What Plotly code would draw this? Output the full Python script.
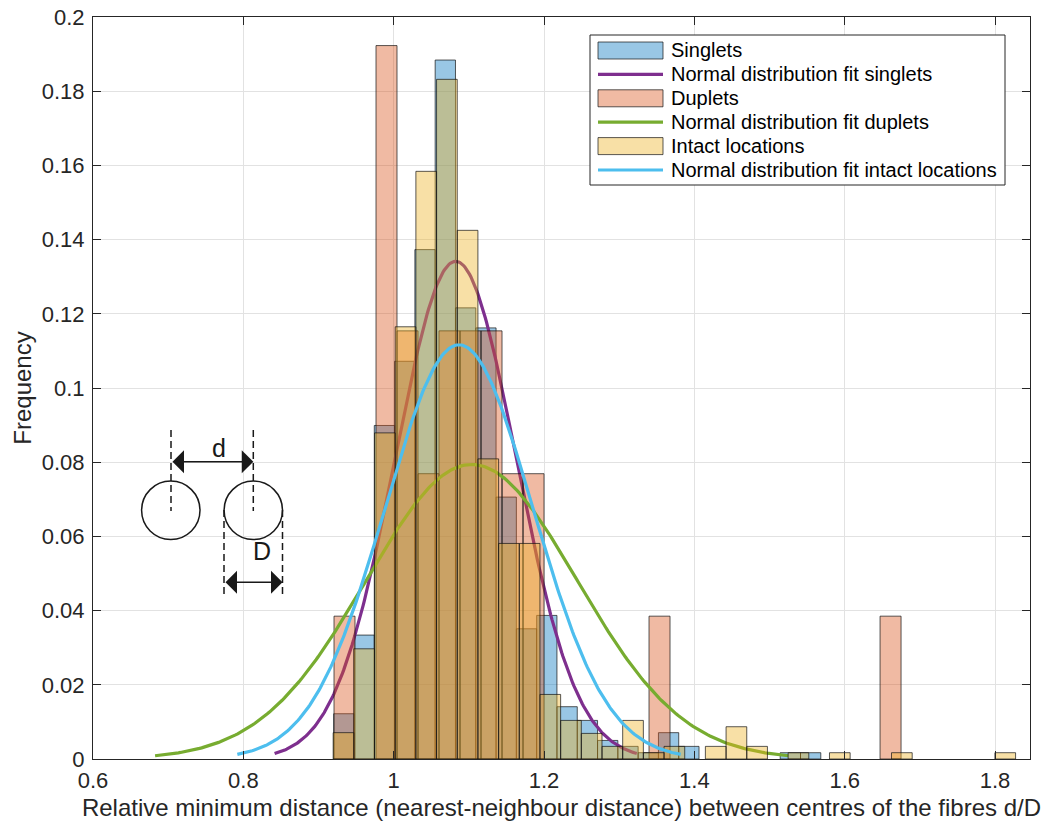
import numpy as np
import plotly.graph_objects as go

# ---------------- data (relative frequency per histogram bin) ----------------
singlets_bin_start = 0.9202
singlets_bin_width = 0.0270
singlets_freq = [0.0122, 0.0334, 0.0899, 0.1072, 0.1373, 0.1884, 0.1216, 0.1162, 0.0706, 0.0351,
                 0.0387, 0.0141, 0.0104, 0.0050, 0.0034, 0.0017, 0.0071, 0.0034, 0.0, 0.0,
                 0.0, 0.0, 0.0017, 0.0017]

duplets_bin_start = 0.9206
duplets_bin_width = 0.02794
duplets_freq = [0.0385, 0.0, 0.1923, 0.1154, 0.0769, 0.1154, 0.1154, 0.1154, 0.0769, 0.0769,
                0.0, 0.0, 0.0, 0.0, 0.0, 0.0385, 0.0, 0.0, 0.0, 0.0,
                0.0, 0.0, 0.0, 0.0, 0.0, 0.0, 0.0385]

intact_bin_start = 0.9195
intact_bin_width = 0.02751
intact_freq = [0.0071, 0.0297, 0.0879, 0.1165, 0.1584, 0.1832, 0.1425, 0.0809, 0.0581, 0.0581,
               0.0174, 0.0104, 0.0069, 0.0034, 0.0104, 0.0017, 0.0034, 0.0, 0.0034, 0.0087,
               0.0034, 0.0, 0.0017, 0.0, 0.0017, 0.0, 0.0, 0.0017, 0.0, 0.0,
               0.0, 0.0, 0.0017]

# normal distribution fits (mean, standard deviation)
singlets_fit = (1.0825, 0.0803)
duplets_fit = (1.1038, 0.1404)
intact_fit = (1.0869, 0.0983)

series_names = ["Singlets", "Duplets", "Intact locations"]
fit_names = ["Normal distribution fit singlets", "Normal distribution fit duplets",
             "Normal distribution fit intact locations"]

x_ticks = [0.6, 0.8, 1.0, 1.2, 1.4, 1.6, 1.8]
x_ticktext = ["0.6", "0.8", "1", "1.2", "1.4", "1.6", "1.8"]
y_ticks = [0, 0.02, 0.04, 0.06, 0.08, 0.1, 0.12, 0.14, 0.16, 0.18, 0.2]
y_ticktext = ["0", "0.02", "0.04", "0.06", "0.08", "0.1", "0.12", "0.14", "0.16", "0.18", "0.2"]

x_title = "Relative minimum distance (nearest-neighbour distance) between centres of the fibres d/D"
y_title = "Frequency"

# ---------------- styles / layout geometry ----------------
FONT = "Liberation Sans, Arial, Helvetica, sans-serif"
AX = "rgb(38,38,38)"
EDGE = "rgba(20,20,20,0.7)"
fills = ["rgba(0,114,189,0.4)", "rgba(217,83,25,0.4)", "rgba(237,177,32,0.4)"]
fit_colors = ["rgb(126,47,142)", "rgb(119,172,48)", "rgb(77,190,238)"]

W, H = 1045, 824
SPL, SPR, SPT, SPB = 93, 1030, 17, 759   # plot area on screen
ML, MT = SPL, SPT
MR, MB = W - SPR, H - SPB


def px(xs):
    return (xs - SPL) / (SPR - SPL)


def py(ys):
    return (SPB - ys) / (SPB - SPT)


def hist_polygons(start, width, freq):
    xs, ys = [], []
    for k, f in enumerate(freq):
        if f <= 0:
            continue
        x0 = start + k * width
        x1 = x0 + width
        xs += [x0, x0, x1, x1, x0, None]
        ys += [0, f, f, 0, 0, None]
    return xs, ys


def normal_fit_curve(mu, sigma, bin_width):
    x = np.linspace(mu - 3 * sigma, mu + 3 * sigma, 300)
    y = bin_width * np.exp(-0.5 * ((x - mu) / sigma) ** 2) / (sigma * np.sqrt(2 * np.pi))
    return x, y


fig = go.Figure()

hists = [(singlets_bin_start, singlets_bin_width, singlets_freq, singlets_fit),
         (duplets_bin_start, duplets_bin_width, duplets_freq, duplets_fit),
         (intact_bin_start, intact_bin_width, intact_freq, intact_fit)]

for i, (start, width, freq, (mu, sd)) in enumerate(hists):
    hx, hy = hist_polygons(start, width, freq)
    fig.add_trace(go.Scatter(x=hx, y=hy, mode="lines", fill="toself", fillcolor=fills[i],
                             line=dict(color=EDGE, width=1), showlegend=False,
                             name=series_names[i], hoverinfo="skip"))
    fx, fy = normal_fit_curve(mu, sd, width)
    fig.add_trace(go.Scatter(x=fx, y=fy, mode="lines", name=fit_names[i], showlegend=False,
                             line=dict(color=fit_colors[i], width=3.2)))

shapes = []
annotations = []

# ---------------- legend (drawn box, MATLAB style) ----------------
LX0, LX1, LY0, LY1 = 590, 1005, 35, 185
shapes.append(dict(type="rect", xref="paper", yref="paper", layer="above",
                   x0=px(LX0), x1=px(LX1), y0=py(LY1), y1=py(LY0),
                   fillcolor="white", line=dict(color=AX, width=1)))
legend_entries = []
for i in range(3):
    legend_entries.append(("patch", fills[i], series_names[i]))
    legend_entries.append(("line", fit_colors[i], fit_names[i]))
ROW0, ROWSTEP = 50.5, 23.9
for j, (kind, col, label) in enumerate(legend_entries):
    yc = ROW0 + ROWSTEP * j
    if kind == "patch":
        shapes.append(dict(type="rect", xref="paper", yref="paper", layer="above",
                           x0=px(598), x1=px(663), y0=py(yc + 8.5), y1=py(yc - 8.5),
                           fillcolor=col, line=dict(color=EDGE, width=1)))
    else:
        shapes.append(dict(type="line", xref="paper", yref="paper", layer="above",
                           x0=px(598), x1=px(663), y0=py(yc), y1=py(yc),
                           line=dict(color=col, width=3.2)))
    annotations.append(dict(x=px(669), y=py(yc), xref="paper", yref="paper", text=label,
                            xanchor="left", yanchor="middle", showarrow=False,
                            font=dict(family=FONT, size=20, color="black")))

# ---------------- inset diagram ----------------
DIAG = "rgb(25,25,25)"
r = 29.2
for cx, cy in [(170.8, 510.3), (253.3, 510.3)]:
    shapes.append(dict(type="circle", xref="paper", yref="paper",
                       x0=px(cx - r), x1=px(cx + r), y0=py(cy + r), y1=py(cy - r),
                       line=dict(color=DIAG, width=1.5)))
for xx, y0, y1 in [(171.0, 430, 511), (253.3, 430, 511), (224.0, 510, 594), (282.5, 510, 594)]:
    shapes.append(dict(type="line", xref="paper", yref="paper",
                       x0=px(xx), x1=px(xx), y0=py(y0), y1=py(y1),
                       line=dict(color=DIAG, width=1.5, dash="7px,4px")))

for xa, xb, yy in [(171.0, 253.3, 461.7), (224.0, 282.5, 582.3)]:
    annotations.append(dict(x=px(xb), y=py(yy), xref="paper", yref="paper",
                            ax=-(xb - xa), ay=0, axref="pixel", ayref="pixel",
                            showarrow=True, arrowside="end+start", arrowhead=1,
                            arrowsize=2.4, arrowwidth=1.6, arrowcolor=DIAG,
                            standoff=0, startstandoff=0, text=""))
annotations.append(dict(x=px(210), y=py(448), xref="paper", yref="paper", text="d",
                        showarrow=False, font=dict(family=FONT, size=25, color=DIAG)))
annotations.append(dict(x=px(251), y=py(567), xref="paper", yref="paper", text="D",
                        showarrow=False, font=dict(family=FONT, size=25, color=DIAG)))

fig.update_layout(
    width=W, height=H,
    margin=dict(l=ML, r=MR, t=MT, b=MB),
    paper_bgcolor="white", plot_bgcolor="white",
    font=dict(family=FONT, color=AX, size=22),
    showlegend=False,
    shapes=shapes, annotations=annotations,
    xaxis=dict(type="linear", range=[0.6, 0.6 + (SPR - SPL) / 751.7],
               tickvals=x_ticks, ticktext=x_ticktext,
               showgrid=True, gridcolor="rgb(226,226,226)", gridwidth=1, zeroline=False,
               showline=True, linecolor=AX, linewidth=1, mirror="ticks",
               ticks="inside", ticklen=8, tickcolor=AX, tickfont=dict(size=22),
               ticklabelstandoff=2, ticklabeloverflow="allow",
               title=dict(text=x_title, font=dict(size=24), standoff=6), automargin=False),
    yaxis=dict(type="linear", range=[0, 0.2],
               tickvals=y_ticks, ticktext=y_ticktext,
               showgrid=True, gridcolor="rgb(226,226,226)", gridwidth=1, zeroline=False,
               showline=True, linecolor=AX, linewidth=1, mirror="ticks",
               ticks="inside", ticklen=8, tickcolor=AX, tickfont=dict(size=22),
               ticklabelstandoff=3, ticklabeloverflow="allow",
               title=dict(text=y_title, font=dict(size=24), standoff=3), automargin=False),
)

fig.write_html("out.html", config={"displayModeBar": False},
               post_script="document.body.style.margin='0px';")
